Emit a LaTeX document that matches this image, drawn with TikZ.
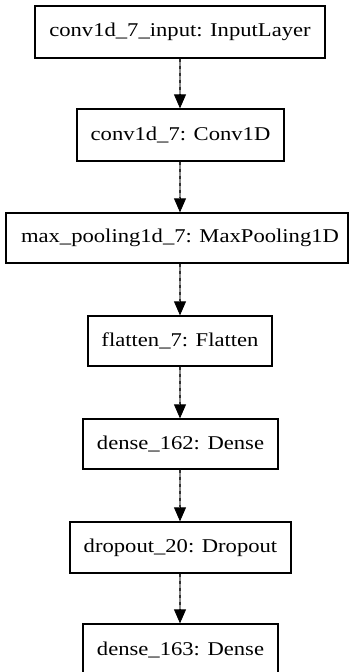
\documentclass[tikz,border=0pt]{standalone}
\usepackage{fontspec}
\setmainfont[FakeStretch=1.16]{Liberation Serif}
\usetikzlibrary{arrows.meta,calc}
\tikzset{
  layerbox/.style={draw=black, line width=1.3pt, inner sep=0pt, font=\fontsize{19.5}{22}\selectfont, text=black},
  flowline/.style={draw=black!45, line width=1.8pt},
  flowdash/.style={draw=black!80, line width=1.2pt, dash pattern=on 3pt off 4pt},
  flowhead/.style={draw=black, line width=0.8pt, -{Triangle[length=14pt,width=12pt]}}
}
\begin{document}
\begin{tikzpicture}[x=1pt,y=-1pt]
\useasboundingbox (0,0) rectangle (349,672);
\node[layerbox, minimum width=290pt, minimum height=52pt] (n1) at (180,32) {conv1d\_7\_input: InputLayer};
\node[layerbox, minimum width=207pt, minimum height=52pt] (n2) at (180.5,135) {conv1d\_7: Conv1D};
\node[layerbox, minimum width=342pt, minimum height=50pt] (n3) at (177,238) {\hspace*{6pt}max\_pooling1d\_7: MaxPooling1D};
\node[layerbox, minimum width=184pt, minimum height=50pt] (n4) at (180,341) {flatten\_7: Flatten};
\node[layerbox, minimum width=195pt, minimum height=50pt] (n5) at (180.5,444) {dense\_162: Dense};
\node[layerbox, minimum width=221pt, minimum height=51pt] (n6) at (180.5,547.5) {dropout\_20: Dropout};
\node[layerbox, minimum width=195pt, minimum height=52pt] (n7) at (180.5,650) {dense\_163: Dense};
\foreach \a/\b in {n1/n2,n2/n3,n3/n4,n4/n5,n5/n6,n6/n7}{
  \coordinate (s) at (\a.south -| 180,0);
  \coordinate (t) at (\b.north -| 180,0);
  \coordinate (m) at ($(t)+(0,-14)$);
  \draw[flowline] (s) -- (m);
  \draw[flowdash] (s) -- (m);
  \draw[flowhead] (m) -- (t);
}
\end{tikzpicture}
\end{document}
